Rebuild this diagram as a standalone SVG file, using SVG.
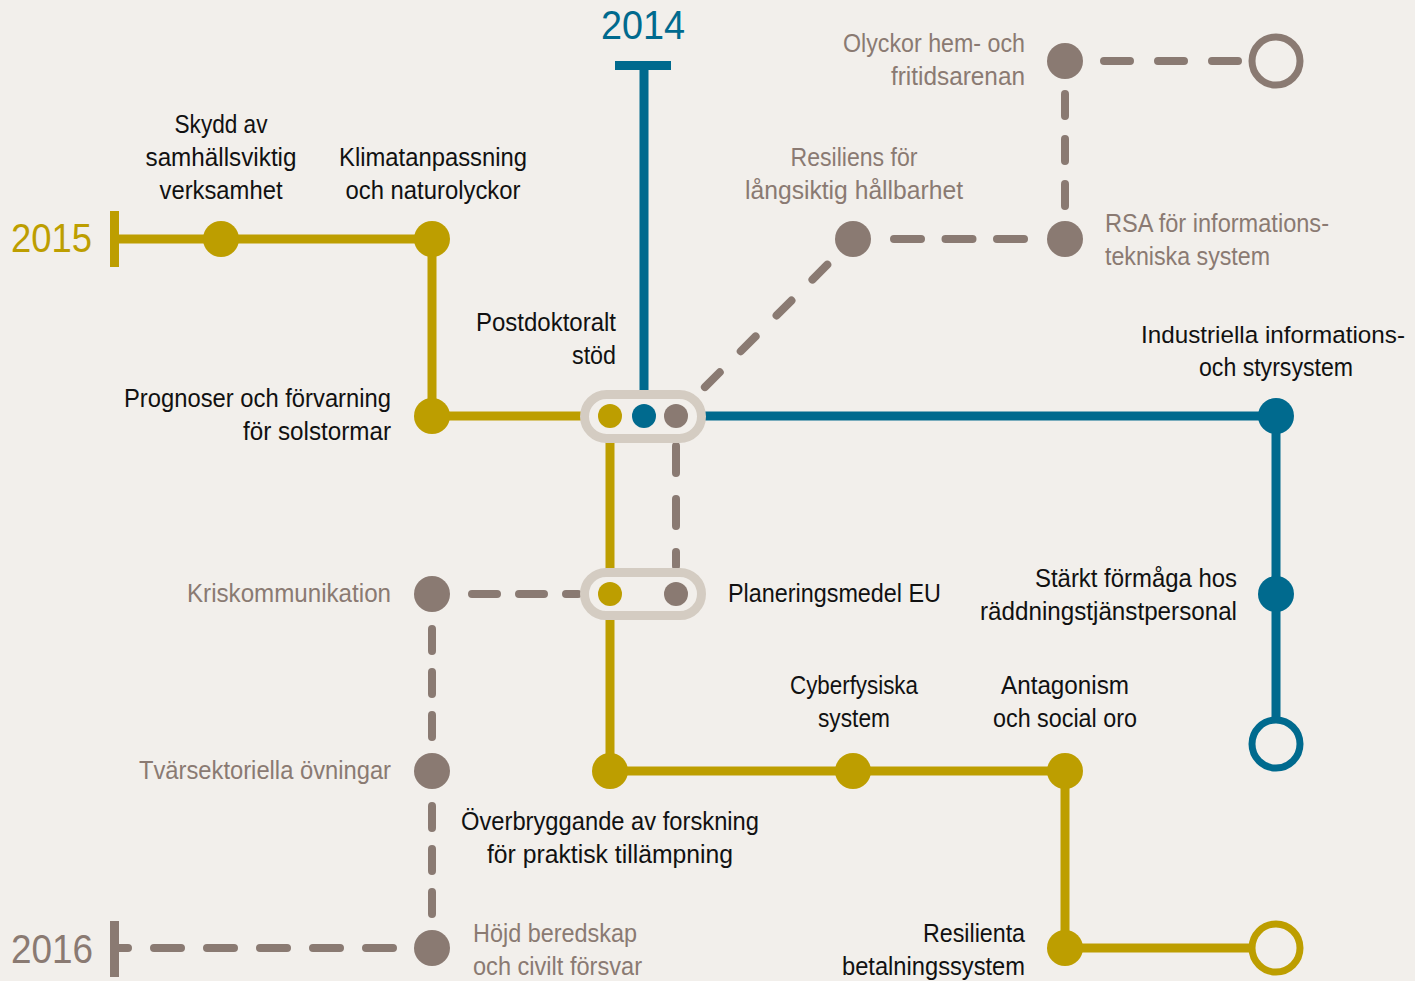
<svg xmlns="http://www.w3.org/2000/svg" width="1415" height="981" viewBox="0 0 1415 981">
<style>
  .bg{fill:#f2efeb}
  .ln{fill:none;stroke-width:9}
  .g{stroke:#bd9e00}
  .b{stroke:#006a8e}
  .r{stroke:#8a7a72}
  .d{fill:none;stroke:#8a7a72;stroke-width:8;stroke-linecap:round}
  .fg{fill:#bd9e00}
  .fb{fill:#006a8e}
  .fr{fill:#8a7a72}
  .open{fill:#f2efeb;stroke-width:7}
  .hub{fill:#f2efeb;stroke:#d4ccc2;stroke-width:9}
  text{font-family:"Liberation Sans",Arial,sans-serif;font-size:26px;fill:#111}
  text.gt{fill:#8a7a72}
  text.yr{font-size:40px}
  .m{text-anchor:middle}
  .e{text-anchor:end}
</style>
<rect class="bg" x="0" y="0" width="1415" height="981"/>

<g id="connectors">
  <line class="ln g" x1="114.5" y1="211" x2="114.5" y2="267"/>
  <path class="ln g" d="M114.5,239 H432 V416 H590"/>
  <path class="ln g" d="M610,440 V771 H1065 V948 H1252"/>
  <line class="ln b" x1="615" y1="65.5" x2="671" y2="65.5"/>
  <line class="ln b" x1="644" y1="65.5" x2="644" y2="396"/>
  <path class="ln b" d="M700,416 H1276 V720"/>
  <line class="d" x1="676" y1="446" x2="676" y2="566" stroke-dasharray="27 26"/>
  <line class="d" x1="704.9" y1="387.1" x2="827.3" y2="264.7" stroke-dasharray="21 29.7"/>
  <line class="d" x1="894" y1="239" x2="1024" y2="239" stroke-dasharray="27 24.5"/>
  <line class="d" x1="1065" y1="206" x2="1065" y2="94" stroke-dasharray="22 23"/>
  <line class="d" x1="1104" y1="61" x2="1238" y2="61" stroke-dasharray="26 28"/>
  <line class="d" x1="472" y1="594" x2="578" y2="594" stroke-dasharray="25 22"/>
  <line class="d" x1="432" y1="629" x2="432" y2="737" stroke-dasharray="22 21"/>
  <line class="d" x1="432" y1="806" x2="432" y2="914" stroke-dasharray="22 21"/>
  <line class="d" x1="115" y1="948" x2="432" y2="948" stroke-dasharray="27 26" stroke-dashoffset="14"/>
  <line class="ln r" x1="114.5" y1="921" x2="114.5" y2="977"/>
</g>

<g id="year-2014"><text class="yr m" x="643" y="39" style="fill:#006a8e" textLength="84" lengthAdjust="spacingAndGlyphs">2014</text></g>
<g id="year-2015"><text class="yr e" x="92" y="252" style="fill:#bd9e00" textLength="81" lengthAdjust="spacingAndGlyphs">2015</text></g>
<g id="year-2016"><text class="yr e" x="93" y="963" style="fill:#8a7a72" textLength="82" lengthAdjust="spacingAndGlyphs">2016</text></g>

<g id="hub-1">
  <rect class="hub" x="584.5" y="394.5" width="117" height="44" rx="22"/>
  <circle class="fg" cx="610" cy="416" r="12"/>
  <circle class="fb" cx="644" cy="416" r="12"/>
  <circle class="fr" cx="676" cy="416" r="12"/>
  <text class="e" x="616" y="331" textLength="140" lengthAdjust="spacingAndGlyphs">Postdoktoralt</text>
  <text class="e" x="616" y="364" textLength="44" lengthAdjust="spacingAndGlyphs">stöd</text>
</g>
<g id="hub-2">
  <rect class="hub" x="584.5" y="572.5" width="117" height="43" rx="21.5"/>
  <circle class="fg" cx="610" cy="594" r="12"/>
  <circle class="fr" cx="676" cy="594" r="12"/>
  <text x="728" y="602" textLength="213" lengthAdjust="spacingAndGlyphs">Planeringsmedel EU</text>
</g>

<g id="skydd">
  <circle class="fg" cx="221" cy="239" r="18"/>
  <text class="m" x="221" y="133" textLength="93" lengthAdjust="spacingAndGlyphs">Skydd av</text>
  <text class="m" x="221" y="166" textLength="151" lengthAdjust="spacingAndGlyphs">samhällsviktig</text>
  <text class="m" x="221" y="199" textLength="123" lengthAdjust="spacingAndGlyphs">verksamhet</text>
</g>
<g id="klimat">
  <circle class="fg" cx="432" cy="239" r="18"/>
  <text class="m" x="433" y="166" textLength="188" lengthAdjust="spacingAndGlyphs">Klimatanpassning</text>
  <text class="m" x="433" y="199" textLength="175" lengthAdjust="spacingAndGlyphs">och naturolyckor</text>
</g>
<g id="prognoser">
  <circle class="fg" cx="432" cy="416" r="18"/>
  <text class="e" x="391" y="407" textLength="267" lengthAdjust="spacingAndGlyphs">Prognoser och förvarning</text>
  <text class="e" x="391" y="440" textLength="148" lengthAdjust="spacingAndGlyphs">för solstormar</text>
</g>
<g id="resiliens">
  <circle class="fr" cx="853" cy="239" r="18"/>
  <text class="m gt" x="854" y="166" textLength="127" lengthAdjust="spacingAndGlyphs">Resiliens för</text>
  <text class="m gt" x="854" y="199" textLength="218" lengthAdjust="spacingAndGlyphs">långsiktig hållbarhet</text>
</g>
<g id="rsa">
  <circle class="fr" cx="1065" cy="239" r="18"/>
  <text class="gt" x="1105" y="232" textLength="224" lengthAdjust="spacingAndGlyphs">RSA för informations-</text>
  <text class="gt" x="1105" y="265" textLength="165" lengthAdjust="spacingAndGlyphs">tekniska system</text>
</g>
<g id="olyckor">
  <circle class="fr" cx="1065" cy="61" r="18"/>
  <text class="e gt" x="1025" y="52" textLength="182" lengthAdjust="spacingAndGlyphs">Olyckor hem- och</text>
  <text class="e gt" x="1025" y="85" textLength="134" lengthAdjust="spacingAndGlyphs">fritidsarenan</text>
</g>
<g id="end-grey"><circle class="open r" cx="1276" cy="61" r="24"/></g>
<g id="industriella">
  <circle class="fb" cx="1276" cy="416" r="18"/>
  <text class="e" x="1405" y="343" style="font-size:24.5px" textLength="264" lengthAdjust="spacingAndGlyphs">Industriella informations-</text>
  <text class="m" x="1276" y="376" textLength="154" lengthAdjust="spacingAndGlyphs">och styrsystem</text>
</g>
<g id="starkt">
  <circle class="fb" cx="1276" cy="594" r="18"/>
  <text class="e" x="1237" y="587" textLength="202" lengthAdjust="spacingAndGlyphs">Stärkt förmåga hos</text>
  <text class="e" x="1237" y="620" textLength="257" lengthAdjust="spacingAndGlyphs">räddningstjänstpersonal</text>
</g>
<g id="end-blue"><circle class="open b" cx="1276" cy="744" r="24"/></g>
<g id="kriskommunikation">
  <circle class="fr" cx="432" cy="594" r="18"/>
  <text class="e gt" x="391" y="602" textLength="204" lengthAdjust="spacingAndGlyphs">Kriskommunikation</text>
</g>
<g id="tvarsektoriella">
  <circle class="fr" cx="432" cy="771" r="18"/>
  <text class="e gt" x="391" y="779" textLength="252" lengthAdjust="spacingAndGlyphs">Tvärsektoriella övningar</text>
</g>
<g id="hojd">
  <circle class="fr" cx="432" cy="948" r="18"/>
  <text class="gt" x="473" y="942" textLength="164" lengthAdjust="spacingAndGlyphs">Höjd beredskap</text>
  <text class="gt" x="473" y="975" textLength="169" lengthAdjust="spacingAndGlyphs">och civilt försvar</text>
</g>
<g id="overbryggande">
  <circle class="fg" cx="610" cy="771" r="18"/>
  <text class="m" x="610" y="830" textLength="298" lengthAdjust="spacingAndGlyphs">Överbryggande av forskning</text>
  <text class="m" x="610" y="863" textLength="246" lengthAdjust="spacingAndGlyphs">för praktisk tillämpning</text>
</g>
<g id="cyberfysiska">
  <circle class="fg" cx="853" cy="771" r="18"/>
  <text class="m" x="854" y="694" textLength="128" lengthAdjust="spacingAndGlyphs">Cyberfysiska</text>
  <text class="m" x="854" y="727" textLength="72" lengthAdjust="spacingAndGlyphs">system</text>
</g>
<g id="antagonism">
  <circle class="fg" cx="1065" cy="771" r="18"/>
  <text class="m" x="1065" y="694" textLength="128" lengthAdjust="spacingAndGlyphs">Antagonism</text>
  <text class="m" x="1065" y="727" textLength="144" lengthAdjust="spacingAndGlyphs">och social oro</text>
</g>
<g id="resilienta">
  <circle class="fg" cx="1065" cy="948" r="18"/>
  <text class="e" x="1025" y="942" textLength="102" lengthAdjust="spacingAndGlyphs">Resilienta</text>
  <text class="e" x="1025" y="975" textLength="183" lengthAdjust="spacingAndGlyphs">betalningssystem</text>
</g>
<g id="end-gold"><circle class="open g" cx="1276" cy="948" r="24"/></g>
</svg>
